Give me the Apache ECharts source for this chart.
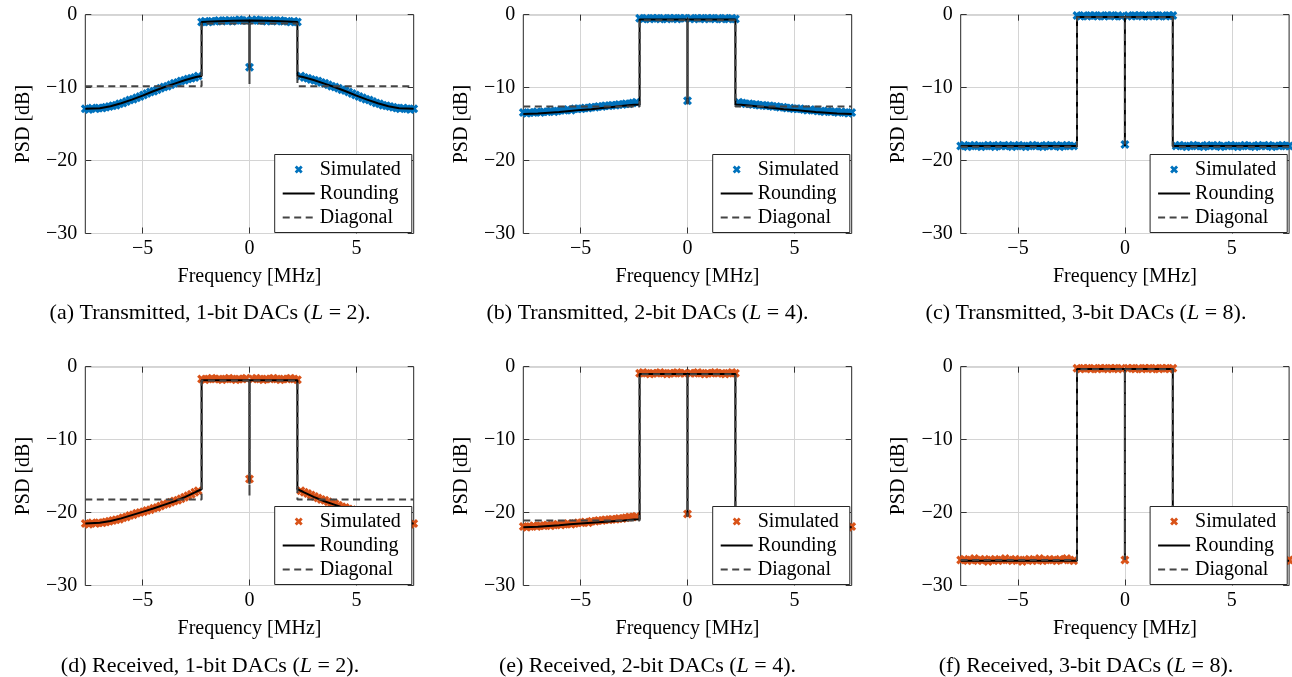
<!DOCTYPE html>
<html>
<head>
<meta charset="utf-8">
<title>PSD of transmitted and received signals</title>
<script src="https://cdn.jsdelivr.net/npm/echarts@6/dist/echarts.min.js"></script>
<style>
  html, body { margin: 0; padding: 0; background: #fff; }
  #chart { width: 1292px; height: 677px; }
</style>
</head>
<body>
<div id="chart"></div>
<script>
// frequency bins of the simulated PSD [MHz]
const simFreq = [
  -7.68, -7.52, -7.36, -7.2, -7.04, -6.88, -6.72, -6.56, -6.4, -6.24, -6.08, -5.92, -5.76, -5.6, -5.44, -5.28, -5.12,
  -4.96, -4.8, -4.64, -4.48, -4.32, -4.16, -4, -3.84, -3.68, -3.52, -3.36, -3.2, -3.04, -2.88, -2.72, -2.56, -2.4,
  -2.24, -2.08, -1.92, -1.76, -1.6, -1.44, -1.28, -1.12, -0.96, -0.8, -0.64, -0.48, -0.32, -0.16,
  0,
  0.16, 0.32, 0.48, 0.64, 0.8, 0.96, 1.12, 1.28, 1.44, 1.6, 1.76, 1.92, 2.08, 2.24,
  2.4, 2.56, 2.72, 2.88, 3.04, 3.2, 3.36, 3.52, 3.68, 3.84, 4, 4.16, 4.32, 4.48, 4.64, 4.8, 4.96,
  5.12, 5.28, 5.44, 5.6, 5.76, 5.92, 6.08, 6.24, 6.4, 6.56, 6.72, 6.88, 7.04, 7.2, 7.36, 7.52, 7.68
];
// frequency points of the Rounding / Diagonal curves [MHz]
const lineFreq = [
  -7.68, -7, -6.5, -6, -5.5, -5, -4.5, -4, -3.5, -3, -2.5, -2.24,
  -2.24, -1.5, -0.75, 0, 0, 0, 0.75, 1.5, 2.24,
  2.24, 2.5, 3, 3.5, 4, 4.5, 5, 5.5, 6, 6.5, 7, 7.68
];
const xTicks = [-5, 0, 5];

// (a) transmitted, 1-bit
const simA = [
  -12.9, -13.0, -12.8, -12.9, -12.8, -12.8, -12.7, -12.6, -12.5, -12.4, -12.2, -12.1, -11.9, -11.7, -11.6, -11.4, -11.2,
  -11.0, -10.8, -10.6, -10.5, -10.3, -10.1, -9.9, -9.8, -9.6, -9.4, -9.3, -9.1, -9.0, -8.8, -8.7, -8.6, -8.4,
  -1.0, -0.9, -1.0, -0.9, -0.9, -0.8, -0.9, -0.8, -0.8, -0.9, -0.8, -0.7, -0.8, -0.8,
  -7.2,
  -0.8, -0.7, -0.8, -0.8, -0.9, -0.8, -0.8, -0.9, -0.8, -0.9, -0.9, -1.0, -0.9, -1.0,
  -8.4, -8.6, -8.7, -8.9, -9.0, -9.1, -9.3, -9.4, -9.6, -9.8, -9.9, -10.1, -10.3, -10.4, -10.6, -10.8, -11.0,
  -11.2, -11.4, -11.6, -11.7, -11.9, -12.1, -12.2, -12.4, -12.5, -12.6, -12.7, -12.8, -12.9, -12.8, -12.9, -13.0, -12.9
];
const roundA = [
  -12.9, -12.82, -12.55, -12.15, -11.65, -11.1, -10.5, -9.95, -9.45, -8.95, -8.55, -8.4,
  -1.0, -0.9, -0.82, -0.8, -7.3, -0.8, -0.82, -0.9, -1.0,
  -8.4, -8.55, -8.95, -9.45, -9.95, -10.5, -11.1, -11.65, -12.15, -12.55, -12.82, -12.9
];
const diagA = [
  -9.8, -9.8, -9.8, -9.8, -9.8, -9.8, -9.8, -9.8, -9.8, -9.8, -9.8, -9.8,
  -1.2, -1.2, -1.2, -1.2, -9.5, -1.2, -1.2, -1.2, -1.2,
  -9.8, -9.8, -9.8, -9.8, -9.8, -9.8, -9.8, -9.8, -9.8, -9.8, -9.8, -9.8
];

// (b) transmitted, 2-bit
const simB = [
  -13.4, -13.5, -13.4, -13.4, -13.3, -13.4, -13.3, -13.3, -13.2, -13.3, -13.2, -13.1, -13.1, -13.0, -13.1, -12.9, -12.9,
  -12.9, -12.8, -12.8, -12.7, -12.7, -12.6, -12.6, -12.5, -12.5, -12.4, -12.4, -12.3, -12.3, -12.2, -12.2, -12.1, -12.0,
  -0.5, -0.6, -0.5, -0.6, -0.5, -0.5, -0.6, -0.5, -0.6, -0.5, -0.5, -0.6, -0.5, -0.5,
  -11.8,
  -0.5, -0.6, -0.5, -0.5, -0.6, -0.5, -0.5, -0.6, -0.5, -0.6, -0.5, -0.6, -0.5, -0.6,
  -12.0, -12.1, -12.2, -12.2, -12.3, -12.3, -12.4, -12.4, -12.5, -12.5, -12.6, -12.6, -12.7, -12.7, -12.8, -12.8, -12.9,
  -12.9, -12.9, -13.0, -13.1, -13.0, -13.1, -13.2, -13.2, -13.3, -13.2, -13.3, -13.3, -13.4, -13.3, -13.4, -13.5, -13.4
];
const roundB = [
  -13.6, -13.55, -13.45, -13.35, -13.2, -13.05, -12.95, -12.8, -12.65, -12.5, -12.35, -12.3,
  -0.65, -0.65, -0.65, -0.65, -12.2, -0.65, -0.65, -0.65, -0.65,
  -12.3, -12.35, -12.5, -12.65, -12.8, -12.95, -13.05, -13.2, -13.35, -13.45, -13.55, -13.6
];
const diagB = [
  -12.6, -12.6, -12.6, -12.6, -12.6, -12.6, -12.6, -12.6, -12.6, -12.6, -12.6, -12.6,
  -0.75, -0.75, -0.75, -0.75, -12.3, -0.75, -0.75, -0.75, -0.75,
  -12.6, -12.6, -12.6, -12.6, -12.6, -12.6, -12.6, -12.6, -12.6, -12.6, -12.6, -12.6
];

// (c) transmitted, 3-bit
const simC = [
  -18.0, -17.9, -18.1, -18.0, -17.9, -18.0, -18.1, -18.0, -17.9, -18.0, -18.1, -17.9, -18.0, -18.0, -17.9, -18.1, -18.0,
  -17.9, -18.0, -18.1, -18.0, -17.9, -18.0, -18.0, -18.1, -17.9, -18.0, -18.0, -17.9, -18.1, -18.0, -17.9, -18.0, -18.0,
  -0.1, -0.2, -0.1, -0.2, -0.1, -0.1, -0.2, -0.1, -0.2, -0.1, -0.1, -0.2, -0.1, -0.2,
  -17.8,
  -0.1, -0.2, -0.1, -0.1, -0.2, -0.1, -0.2, -0.1, -0.1, -0.2, -0.1, -0.2, -0.1, -0.1,
  -18.0, -17.9, -18.0, -18.1, -18.0, -17.9, -18.0, -18.0, -18.1, -17.9, -18.0, -18.0, -17.9, -18.1, -18.0, -18.0, -17.9,
  -18.0, -18.1, -18.0, -17.9, -18.0, -18.0, -18.1, -17.9, -18.0, -18.0, -17.9, -18.1, -18.0, -18.0, -17.9, -18.0, -18.0
];
const roundC = [
  -18, -18, -18, -18, -18, -18, -18, -18, -18, -18, -18, -18,
  -0.3, -0.3, -0.3, -0.3, -18, -0.3, -0.3, -0.3, -0.3,
  -18, -18, -18, -18, -18, -18, -18, -18, -18, -18, -18, -18
];
const diagC = [
  -18.1, -18.1, -18.1, -18.1, -18.1, -18.1, -18.1, -18.1, -18.1, -18.1, -18.1, -18.1,
  -0.35, -0.35, -0.35, -0.35, -18.1, -0.35, -0.35, -0.35, -0.35,
  -18.1, -18.1, -18.1, -18.1, -18.1, -18.1, -18.1, -18.1, -18.1, -18.1, -18.1, -18.1
];

// (d) received, 1-bit
const simD = [
  -21.5, -21.6, -21.4, -21.5, -21.4, -21.4, -21.3, -21.2, -21.1, -21.0, -20.9, -20.7, -20.6, -20.4, -20.3, -20.1, -20.0,
  -19.9, -19.7, -19.6, -19.4, -19.3, -19.1, -18.9, -18.8, -18.6, -18.4, -18.3, -18.1, -17.9, -17.7, -17.5, -17.2, -17.0,
  -1.7, -1.8, -1.7, -1.6, -1.7, -1.7, -1.8, -1.7, -1.6, -1.7, -1.8, -1.7, -1.7, -1.6,
  -15.4,
  -1.7, -1.6, -1.7, -1.8, -1.7, -1.7, -1.6, -1.7, -1.8, -1.7, -1.7, -1.6, -1.7, -1.8,
  -17.0, -17.2, -17.4, -17.6, -17.8, -18.0, -18.2, -18.3, -18.5, -18.7, -18.8, -19.0, -19.2, -19.3, -19.5, -19.6, -19.8,
  -19.9, -20.1, -20.2, -20.4, -20.5, -20.7, -20.8, -21.0, -21.1, -21.2, -21.3, -21.4, -21.4, -21.5, -21.4, -21.6, -21.5
];
const roundD = [
  -21.5, -21.4, -21.15, -20.8, -20.35, -19.9, -19.45, -18.95, -18.45, -17.85, -17.15, -16.8,
  -1.85, -1.85, -1.85, -1.85, -16.0, -1.85, -1.85, -1.85, -1.85,
  -16.8, -17.15, -17.85, -18.45, -18.95, -19.45, -19.9, -20.35, -20.8, -21.15, -21.4, -21.5
];
const diagD = [
  -18.2, -18.2, -18.2, -18.2, -18.2, -18.2, -18.2, -18.2, -18.2, -18.2, -18.2, -18.2,
  -1.9, -1.9, -1.9, -1.9, -17.7, -1.9, -1.9, -1.9, -1.9,
  -18.2, -18.2, -18.2, -18.2, -18.2, -18.2, -18.2, -18.2, -18.2, -18.2, -18.2, -18.2
];

// (e) received, 2-bit
const simE = [
  -21.9, -22.0, -21.9, -21.8, -21.9, -21.8, -21.8, -21.7, -21.8, -21.7, -21.6, -21.7, -21.6, -21.5, -21.6, -21.5, -21.4,
  -21.4, -21.3, -21.4, -21.2, -21.2, -21.1, -21.1, -21.0, -21.0, -20.9, -20.9, -20.8, -20.8, -20.7, -20.6, -20.6, -20.5,
  -0.9, -0.8, -0.9, -1.0, -0.9, -0.9, -0.8, -0.9, -1.0, -0.9, -0.9, -0.8, -0.9, -0.9,
  -20.2,
  -0.9, -0.9, -0.8, -0.9, -1.0, -0.9, -0.9, -0.8, -0.9, -0.9, -1.0, -0.9, -0.8, -0.9,
  -20.5, -20.6, -20.6, -20.7, -20.8, -20.8, -20.9, -20.9, -21.0, -21.0, -21.1, -21.1, -21.2, -21.2, -21.3, -21.3, -21.4,
  -21.4, -21.5, -21.4, -21.5, -21.6, -21.6, -21.6, -21.7, -21.7, -21.8, -21.7, -21.8, -21.8, -21.9, -21.8, -22.0, -21.9
];
const roundE = [
  -22.0, -21.95, -21.85, -21.75, -21.6, -21.5, -21.4, -21.3, -21.2, -21.1, -20.95, -20.9,
  -1.0, -1.0, -1.0, -1.0, -20.5, -1.0, -1.0, -1.0, -1.0,
  -20.9, -20.95, -21.1, -21.2, -21.3, -21.4, -21.5, -21.6, -21.75, -21.85, -21.95, -22.0
];
const diagE = [
  -21.1, -21.1, -21.1, -21.1, -21.1, -21.1, -21.1, -21.1, -21.1, -21.1, -21.1, -21.1,
  -1.05, -1.05, -1.05, -1.05, -20.6, -1.05, -1.05, -1.05, -1.05,
  -21.1, -21.1, -21.1, -21.1, -21.1, -21.1, -21.1, -21.1, -21.1, -21.1, -21.1, -21.1
];

// (f) received, 3-bit
const simF = [
  -26.5, -26.4, -26.6, -26.5, -26.3, -26.6, -26.5, -26.4, -26.7, -26.5, -26.4, -26.6, -26.5, -26.3, -26.5, -26.6, -26.4,
  -26.5, -26.7, -26.5, -26.4, -26.6, -26.5, -26.3, -26.6, -26.5, -26.4, -26.5, -26.6, -26.4, -26.5, -26.3, -26.5, -26.6,
  -0.2, -0.3, -0.2, -0.2, -0.3, -0.2, -0.3, -0.2, -0.2, -0.3, -0.2, -0.2, -0.3, -0.2,
  -26.5,
  -0.2, -0.2, -0.3, -0.2, -0.3, -0.2, -0.2, -0.3, -0.2, -0.3, -0.2, -0.2, -0.3, -0.2,
  -26.6, -26.5, -26.4, -26.5, -26.6, -26.3, -26.5, -26.5, -26.7, -26.4, -26.5, -26.6, -26.4, -26.5, -26.3, -26.6, -26.5,
  -26.4, -26.6, -26.5, -26.5, -26.7, -26.4, -26.5, -26.6, -26.3, -26.5, -26.4, -26.6, -26.5, -26.5, -26.4, -26.6, -26.5
];
const roundF = [
  -26.6, -26.6, -26.6, -26.6, -26.6, -26.6, -26.6, -26.6, -26.6, -26.6, -26.6, -26.6,
  -0.3, -0.3, -0.3, -0.3, -26.5, -0.3, -0.3, -0.3, -0.3,
  -26.6, -26.6, -26.6, -26.6, -26.6, -26.6, -26.6, -26.6, -26.6, -26.6, -26.6, -26.6
];
const diagF = [
  -26.5, -26.5, -26.5, -26.5, -26.5, -26.5, -26.5, -26.5, -26.5, -26.5, -26.5, -26.5,
  -0.35, -0.35, -0.35, -0.35, -26.5, -0.35, -0.35, -0.35, -0.35,
  -26.5, -26.5, -26.5, -26.5, -26.5, -26.5, -26.5, -26.5, -26.5, -26.5, -26.5, -26.5
];

const FONT = '"Liberation Serif", "Times New Roman", serif';
const BLUE = '#0072bd';
const ORANGE = '#d95319';
// bold "x" marker
const CROSS = 'path://M0,2.5L2.5,0L5,2.5L7.5,0L10,2.5L7.5,5L10,7.5L7.5,10L5,7.5L2.5,10L0,7.5L2.5,5Z';

const panels = [
  { key: 'a', sim: simA, round: roundA, diag: diagA, color: BLUE, caption: '(a) Transmitted, 1-bit DACs ({it|L} = 2).' },
  { key: 'b', sim: simB, round: roundB, diag: diagB, color: BLUE, caption: '(b) Transmitted, 2-bit DACs ({it|L} = 4).' },
  { key: 'c', sim: simC, round: roundC, diag: diagC, color: BLUE, caption: '(c) Transmitted, 3-bit DACs ({it|L} = 8).' },
  { key: 'd', sim: simD, round: roundD, diag: diagD, color: ORANGE, caption: '(d) Received, 1-bit DACs ({it|L} = 2).' },
  { key: 'e', sim: simE, round: roundE, diag: diagE, color: ORANGE, caption: '(e) Received, 2-bit DACs ({it|L} = 4).' },
  { key: 'f', sim: simF, round: roundF, diag: diagF, color: ORANGE, caption: '(f) Received, 3-bit DACs ({it|L} = 8).' }
];

// layout of the 3x2 subfigures (px)
const colLeft = [85.3, 523.3, 960.7];
const rowTop = [14.7, 366.7];
const W = 328.4, H = 218.8;
const capX = [210, 647.5, 1086];
const capY = [313, 666.5];

const minus = v => (v < 0 ? '\u2212' + Math.abs(v) : String(v));
const zip = (xs, ys) => xs.map((x, i) => [x, ys[i]]);
const textStyle = { fontFamily: FONT, fontSize: 20, color: '#000' };
const tick = { show: true, inside: true, length: 6, lineStyle: { color: '#333', width: 1 } };
// hides the dot ECharts puts in the middle of a line legend icon
const noDot = { color: 'rgba(0,0,0,0)', borderColor: 'rgba(0,0,0,0)', borderWidth: 0 };

const grid = [], xAxis = [], yAxis = [], series = [], legend = [], graphic = [];

panels.forEach((p, i) => {
  const col = i % 3, row = Math.floor(i / 3);
  const left = colLeft[col], top = rowTop[row];

  grid.push({ left, top, width: W, height: H, show: true, borderColor: '#262626', borderWidth: 1, backgroundColor: 'transparent' });

  xAxis.push({
    gridIndex: i, type: 'value', position: 'bottom', min: -7.68, max: 7.68,
    name: 'Frequency [MHz]', nameLocation: 'middle', nameGap: 33, nameTextStyle: textStyle,
    axisLine: { show: false, onZero: false },
    axisTick: { ...tick, customValues: xTicks },
    axisLabel: { ...textStyle, customValues: xTicks, formatter: minus, margin: 5 },
    splitLine: { show: true, lineStyle: { color: '#d4d4d4', width: 1 } }
  });
  xAxis.push({
    gridIndex: i, type: 'value', position: 'top', min: -7.68, max: 7.68,
    axisLine: { show: false, onZero: false },
    axisTick: { ...tick, customValues: xTicks },
    axisLabel: { show: false, customValues: xTicks },
    splitLine: { show: false }
  });
  yAxis.push({
    gridIndex: i, type: 'value', position: 'left', min: -30, max: 0, interval: 10,
    name: 'PSD [dB]', nameLocation: 'middle', nameGap: 52, nameTextStyle: textStyle,
    axisLine: { show: false, onZero: false },
    axisTick: tick,
    axisLabel: { ...textStyle, formatter: minus, margin: 8 },
    splitLine: { show: true, lineStyle: { color: '#d4d4d4', width: 1 } }
  });
  yAxis.push({
    gridIndex: i, type: 'value', position: 'right', min: -30, max: 0, interval: 10,
    axisLine: { show: false, onZero: false },
    axisTick: tick,
    axisLabel: { show: false },
    splitLine: { show: false }
  });

  series.push({
    type: 'scatter', name: 'Simulated|' + p.key, xAxisIndex: 2 * i, yAxisIndex: 2 * i,
    data: zip(simFreq, p.sim), symbol: CROSS, symbolSize: 9, symbolKeepAspect: true,
    itemStyle: { color: p.color, opacity: 1 }, clip: false, silent: true
  });
  series.push({
    type: 'line', name: 'Rounding|' + p.key, xAxisIndex: 2 * i, yAxisIndex: 2 * i,
    data: zip(lineFreq, p.round), symbol: 'none', showSymbol: false,
    lineStyle: { color: '#000', width: 2 }, itemStyle: { color: '#000' }, silent: true
  });
  series.push({
    type: 'line', name: 'Diagonal|' + p.key, xAxisIndex: 2 * i, yAxisIndex: 2 * i,
    data: zip(lineFreq, p.diag), symbol: 'none', showSymbol: false,
    lineStyle: { color: '#444', width: 2, type: [7, 4.5] }, itemStyle: { color: '#444' }, silent: true
  });

  legend.push({
    orient: 'vertical', left: left + W - 139, top: top + H - 79,
    data: [
      { name: 'Simulated|' + p.key },
      { name: 'Rounding|' + p.key, itemStyle: noDot },
      { name: 'Diagonal|' + p.key, itemStyle: noDot }
    ],
    formatter: n => n.split('|')[0],
    itemWidth: 32, itemHeight: 8, itemGap: 4, padding: [5, 11, 5, 7],
    backgroundColor: '#fff', borderColor: '#262626', borderWidth: 1, borderRadius: 0,
    textStyle: { ...textStyle, lineHeight: 20 },
    selectedMode: false, z: 10
  });

  graphic.push({
    type: 'text', x: capX[col], y: capY[row], silent: true,
    style: {
      text: p.caption, fill: '#000', fontFamily: FONT, fontSize: 22,
      align: 'center', verticalAlign: 'middle', textAlign: 'center', textVerticalAlign: 'middle',
      rich: { it: { fontStyle: 'italic', fontFamily: FONT, fontSize: 22 } }
    }
  });
});

const chart = echarts.init(document.getElementById('chart'), null, { renderer: 'canvas' });
chart.setOption({
  animation: false,
  backgroundColor: '#fff',
  grid, xAxis, yAxis, series, legend, graphic
});
</script>
</body>
</html>
